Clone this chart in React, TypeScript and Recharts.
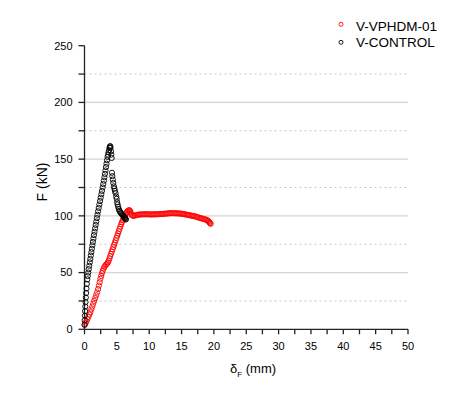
import React from 'react';
import { ScatterChart, Scatter, XAxis, YAxis, ReferenceLine } from 'recharts';

// V-CONTROL: displacement (mm), force (kN)
const controlX = [0.0, 0.03, 0.06, 0.09, 0.12, 0.16, 0.2, 0.25, 0.3, 0.36, 0.43, 0.5, 0.58, 0.66, 0.74, 0.82, 0.9, 0.98, 1.06, 1.14, 1.22, 1.3, 1.38, 1.46, 1.55, 1.64, 1.73, 1.82, 1.91, 2.0, 2.1, 2.2, 2.3, 2.4, 2.5, 2.6, 2.7, 2.8, 2.9, 3.0, 3.08, 3.16, 3.24, 3.32, 3.4, 3.48, 3.56, 3.64, 3.72, 3.8, 3.87, 3.93, 3.98, 4.02,
  4.1, 4.15, 4.2, 4.25, 4.3, 4.38, 4.45, 4.55, 4.62, 4.7, 4.8, 4.9, 4.97, 5.05, 5.12, 5.2, 5.3, 5.4, 5.5, 5.62, 5.75, 5.88, 6.0, 6.1, 6.2, 6.28, 6.35, 6.4];
const controlY = [4, 8, 12, 16, 20, 24, 28, 32, 36, 40, 44, 47, 50, 53, 56, 59, 62, 65, 68, 71, 74, 77, 80, 83, 86, 89, 92, 95, 98, 101, 104, 107, 110, 113, 116, 119, 122, 125, 128, 131, 134, 137, 140, 143, 146, 149, 152, 154, 156, 158, 160, 161, 161.5, 160,
  157, 154, 151, 138, 135, 132, 129, 126, 124, 122, 120, 117, 115, 112, 110, 108, 106, 104.5, 103.5, 102.5, 101.5, 100.8, 100, 99.3, 98.6, 98, 97.3, 96.8];

// V-VPHDM-01: displacement (mm), force (kN)
const vphdmX = [0.05, 0.15, 0.3, 0.45, 0.6, 0.75, 0.9, 1.05, 1.2, 1.35, 1.5, 1.65, 1.8, 1.95, 2.1, 2.22, 2.34, 2.46, 2.58, 2.7, 2.82, 2.95, 3.08, 3.22, 3.36, 3.5, 3.62, 3.74, 3.86, 3.98, 4.1, 4.22, 4.34, 4.46, 4.58, 4.7, 4.82, 4.94, 5.06, 5.18, 5.3, 5.42, 5.54, 5.66, 5.78, 5.9, 6.02, 6.14, 6.26, 6.38, 6.5, 6.62, 6.75, 6.88, 7.0, 7.1, 7.2, 7.3, 7.45, 7.6,
  7.8, 8.0, 8.2, 8.4, 8.6, 8.8, 9.0, 9.2, 9.4, 9.6, 9.8, 10.0, 10.2, 10.4, 10.6, 10.8, 11.0, 11.2, 11.4, 11.6, 11.8, 12.0, 12.2, 12.4, 12.6, 12.8, 13.0, 13.2, 13.4, 13.6, 13.8, 14.0, 14.2, 14.4, 14.6, 14.8, 15.0, 15.2, 15.4, 15.6, 15.8, 16.0, 16.2, 16.4, 16.6, 16.8, 17.0, 17.2, 17.4, 17.6, 17.8, 18.0, 18.2, 18.4, 18.6, 18.8, 18.95, 19.1, 19.2, 19.3, 19.4, 19.5];
const vphdmY = [4, 5.5, 7, 9, 11, 13, 15, 17.5, 20, 22.5, 25, 27.5, 30, 32.5, 35.5, 38.5, 41.5, 44.5, 47, 49.5, 51.5, 53.5, 55, 56.3, 57.2, 58, 59, 60.5, 62.5, 64.5, 66.5, 68.5, 70.5, 72.5, 74.5, 76.5, 78.5, 80.5, 82.5, 84.5, 86.5, 88.5, 90.5, 92.5, 94.3, 96, 97.5, 99, 100.5, 102, 103, 103.8, 104.6, 105, 104.8, 103.5, 102, 100.8, 100.2, 100,
  100.3, 100.6, 100.9, 101.1, 101.2, 101.3, 101.4, 101.3, 101.4, 101.5, 101.3, 101.4, 101.3, 101.2, 101.3, 101.4, 101.3, 101.4, 101.5, 101.6, 101.7, 101.6, 101.8, 101.9, 102, 102.1, 102.2, 102.3, 102.3, 102.4, 102.3, 102.2, 102.3, 102.2, 102.1, 102, 101.9, 101.7, 101.5, 101.3, 101, 100.8, 100.6, 100.3, 100.1, 99.9, 99.7, 99.4, 99, 98.6, 98.2, 97.9, 97.6, 97.3, 97, 96.6, 96.2, 95.6, 95, 94.3, 93.6, 93];

const xTicks = [0, 2.5, 5, 7.5, 10, 12.5, 15, 17.5, 20, 22.5, 25, 27.5, 30, 32.5, 35, 37.5, 40, 42.5, 45, 47.5, 50];
const yTicks = [0, 25, 50, 75, 100, 125, 150, 175, 200, 225, 250];
const majorGrid = [50, 100, 150, 200];
const minorGrid = [25, 75, 125, 175, 225];

const seriesNames = ['V-VPHDM-01', 'V-CONTROL'];

const controlData = controlX.map((x, i) => ({ x, y: controlY[i] }));
const vphdmData = vphdmX.map((x, i) => ({ x, y: vphdmY[i] }));

const FONT = '"Liberation Sans", Arial, sans-serif';

const makeShape = (color: string) => (props: any) => (
  <circle cx={props.cx} cy={props.cy} r={2.6} fill="none" stroke={color} strokeWidth={0.9} />
);

const XLabel = () => (
  <text x={230} y={373} fontSize={13} fontFamily={FONT} fill="#000">
    δ<tspan dy={4} fontSize={8}>F</tspan>
    <tspan dy={-4}> (mm)</tspan>
  </text>
);

const YLabel = () => (
  <text x={46.5} y={182} fontSize={14} fontFamily={FONT} fill="#000" textAnchor="middle" transform="rotate(-90 46.5 182)">
    F (kN)
  </text>
);

const LegendBox = () => (
  <svg width={130} height={45} style={{ position: 'absolute', left: 330, top: 10 }}>
    <circle cx={11} cy={14.3} r={2} fill="none" stroke="#ff0000" strokeWidth={0.9} />
    <text x={26} y={20.7} fontSize={13.5} fontFamily={FONT} fill="#000">{seriesNames[0]}</text>
    <circle cx={11} cy={32.3} r={2} fill="none" stroke="#000" strokeWidth={0.9} />
    <text x={26} y={37.3} fontSize={13.5} fontFamily={FONT} fill="#000">{seriesNames[1]}</text>
  </svg>
);

export default function App() {
  return (
    <div style={{ position: 'absolute', left: 0, top: 0, width: 474, height: 395, background: '#fff' }}>
      <ScatterChart width={474} height={395} margin={{ top: 45.7, right: 66, bottom: 0, left: 0 }}>
        <XAxis
          type="number"
          dataKey="x"
          domain={[0, 50]}
          ticks={xTicks}
          interval={0}
          tickFormatter={(v: number) => (v % 5 === 0 ? String(v) : '')}
          height={65.7}
          tickSize={5}
          tickMargin={8}
          stroke="#222"
          strokeWidth={1.3}
          tick={{ fill: '#000', fontSize: 11, fontFamily: FONT }}
          label={<XLabel />}
        />
        <YAxis
          type="number"
          dataKey="y"
          domain={[0, 250]}
          ticks={yTicks}
          interval={0}
          tickFormatter={(v: number) => (v % 50 === 0 ? String(v) : '')}
          width={84.5}
          tickSize={6}
          tickMargin={6}
          stroke="#222"
          strokeWidth={1.3}
          tick={{ fill: '#000', fontSize: 11, fontFamily: FONT }}
          label={<YLabel />}
        />
        {majorGrid.map((v) => (
          <ReferenceLine key={'M' + v} y={v} stroke="#d4d4d4" strokeWidth={1.2} />
        ))}
        {minorGrid.map((v) => (
          <ReferenceLine key={'m' + v} y={v} stroke="#c8c8c8" strokeWidth={1} strokeDasharray="2 3" />
        ))}
        <Scatter name={seriesNames[0]} data={vphdmData} isAnimationActive={false} shape={makeShape('#ff0000')} />
        <Scatter name={seriesNames[1]} data={controlData} isAnimationActive={false} shape={makeShape('#000')} />
      </ScatterChart>
      <LegendBox />
    </div>
  );
}
